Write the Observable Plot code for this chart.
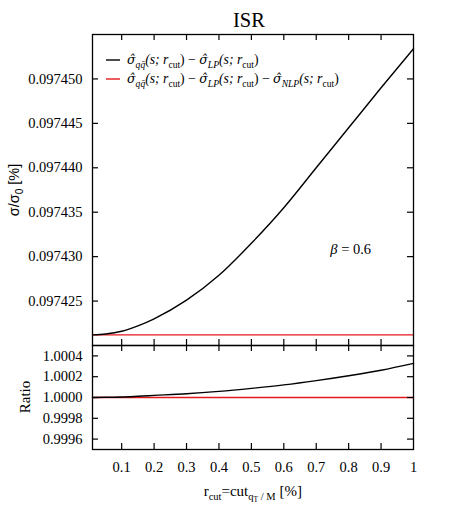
<!DOCTYPE html>
<html><head><meta charset="utf-8">
<script src="https://cdn.jsdelivr.net/npm/d3@7"></script>
<script src="https://cdn.jsdelivr.net/npm/@observablehq/plot@0.6"></script>
<style>
html,body{margin:0;padding:0;background:#fff;}
#chart{width:458px;height:518px;position:relative;overflow:hidden;background:#fff;}
#chart svg{position:absolute;left:0;display:block;background:none;}
</style></head><body><div id="chart"></div>
<script>
// ---- data ----
const rcut      = [0.01, 0.05, 0.1, 0.15, 0.2, 0.3, 0.4, 0.5, 0.6, 0.7, 0.8, 0.9, 1.0];
const sigmaLP   = [0.0974212, 0.0974213, 0.0974216, 0.0974222, 0.0974230, 0.0974251, 0.0974279,
                   0.0974315, 0.0974355, 0.0974400, 0.0974445, 0.0974490, 0.0974534];
const sigmaNLP  = [0.0974212, 0.0974212, 0.0974212, 0.0974212, 0.0974212, 0.0974212, 0.0974212,
                   0.0974212, 0.0974212, 0.0974212, 0.0974212, 0.0974212, 0.0974212];
const ratioLP   = [1.000000, 1.000002, 1.000005, 1.000012, 1.000020, 1.000036, 1.000059,
                   1.000088, 1.000121, 1.000162, 1.000209, 1.000262, 1.000328];
const ratioNLP  = [1.0000, 1.0000, 1.0000, 1.0000, 1.0000, 1.0000, 1.0000,
                   1.0000, 1.0000, 1.0000, 1.0000, 1.0000, 1.0000];
const xDomain   = [0.01, 1];
const xTicks    = [0.1, 0.2, 0.3, 0.4, 0.5, 0.6, 0.7, 0.8, 0.9];
const xLabels   = [0.1, 0.2, 0.3, 0.4, 0.5, 0.6, 0.7, 0.8, 0.9, 1];
const yTopDomain = [0.097420, 0.097455];
const yTopTicks  = [0.097425, 0.097430, 0.097435, 0.097440, 0.097445, 0.097450];
const yBotDomain = [0.9995, 1.0005];
const yBotTicks  = [0.9996, 0.9998, 1.0000, 1.0002, 1.0004];
const seriesColors = ["#000000", "#e3191c"];
const betaLabel = {x: 0.745, y: 0.0974302};

const topRows = rcut.map((x, i) => ({x, lp: sigmaLP[i], nlp: sigmaNLP[i]}));
const botRows = rcut.map((x, i) => ({x, lp: ratioLP[i], nlp: ratioNLP[i]}));

// ---- layout ----
const W = 458, ML = 92, MR = 45, TL = 6, TICKFS = 14.5;
const innerW = W - ML - MR;
const SERIF = "'Liberation Serif', 'Times New Roman', serif";
const MATH = "'DejaVu Serif', serif";
const SANS = "'Liberation Sans', Arial, sans-serif";

function inward(innerH) {
  return [
    Plot.tickX(xTicks, {x: d => d, insetTop: innerH - TL, stroke: "#000", strokeWidth: 1.2}),
    Plot.tickX(xTicks, {x: d => d, insetBottom: innerH - TL, stroke: "#000", strokeWidth: 1.2}),
  ];
}
function inwardY(ticks) {
  return [
    Plot.tickY(ticks, {y: d => d, insetRight: innerW - TL, stroke: "#000", strokeWidth: 1.2}),
    Plot.tickY(ticks, {y: d => d, insetLeft: innerW - TL, stroke: "#000", strokeWidth: 1.2}),
  ];
}

// top panel: frame from y=34 to y=345
const topH = 347, topMT = 34, topMB = 2;
const topInner = topH - topMT - topMB;
const topPlot = Plot.plot({
  width: W, height: topH,
  marginLeft: ML, marginRight: MR, marginTop: topMT, marginBottom: topMB,
  style: {fontFamily: SERIF, fontSize: TICKFS + "px", background: "none", color: "#000"},
  x: {domain: xDomain},
  y: {domain: yTopDomain},
  marks: [
    Plot.lineY(topRows, {x: "x", y: "nlp", stroke: seriesColors[1], strokeWidth: 1.4, curve: "monotone-x"}),
    Plot.lineY(topRows, {x: "x", y: "lp", stroke: seriesColors[0], strokeWidth: 1.4, curve: "monotone-x"}),
    ...inward(topInner),
    ...inwardY(yTopTicks),
    Plot.axisY({ticks: yTopTicks, tickSize: 0, tickPadding: 10, tickFormat: d3.format(".6f"), label: null, fontSize: TICKFS}),
    Plot.axisX({ticks: [], tickSize: 0, label: null}),
    Plot.frame({stroke: "#000", strokeWidth: 1.3})
  ]
});
topPlot.style.top = "0px";

// bottom panel: frame from y=345 to y=449
const botTopOffset = 343;
const botH = 175, botMT = 2, botMB = 69;
const botInner = botH - botMT - botMB;
const botPlot = Plot.plot({
  width: W, height: botH,
  marginLeft: ML, marginRight: MR, marginTop: botMT, marginBottom: botMB,
  style: {fontFamily: SERIF, fontSize: TICKFS + "px", background: "none", color: "#000"},
  x: {domain: xDomain},
  y: {domain: yBotDomain},
  marks: [
    Plot.lineY(botRows, {x: "x", y: "nlp", stroke: seriesColors[1], strokeWidth: 1.4, curve: "monotone-x"}),
    Plot.lineY(botRows, {x: "x", y: "lp", stroke: seriesColors[0], strokeWidth: 1.4, curve: "monotone-x"}),
    ...inward(botInner),
    ...inwardY(yBotTicks),
    Plot.axisY({ticks: yBotTicks, tickSize: 0, tickPadding: 10, tickFormat: d3.format(".4f"), label: null, fontSize: TICKFS}),
    Plot.axisX({ticks: xLabels, tickSize: 0, tickPadding: 12, tickFormat: d => String(d), label: null, fontSize: TICKFS}),
    Plot.frame({stroke: "#000", strokeWidth: 1.3})
  ]
});
botPlot.style.top = botTopOffset + "px";

const chart = document.getElementById("chart");
chart.appendChild(topPlot);
chart.appendChild(botPlot);

// ---- rich text helper ----
// style codes: "h" hatted sigma (math font), "i" italic, "r" roman, "si" sub italic, "sr" sub roman
function rich(sel, parts, size) {
  let shifted = 0;
  for (const [t, s] of parts) {
    const tsp = sel.append("tspan").text(t);
    const sub = s[0] === "s";
    const it = s.endsWith("i") || s === "h";
    tsp.attr("font-style", it ? "italic" : "normal");
    tsp.attr("font-size", sub ? size * 0.7 : (s === "h" ? size * 0.92 : size));
    if (s === "h") tsp.attr("font-family", MATH);
    const want = sub ? size * 0.28 : 0;
    if (want !== shifted) { tsp.attr("dy", want - shifted); shifted = want; }
  }
}

const ts = d3.select(topPlot);
// title
ts.append("text").attr("x", 249).attr("y", 27.3).attr("text-anchor", "middle")
  .attr("font-family", SERIF).attr("font-size", 20.5).attr("fill", "#000").text("ISR");

// y label (top)
{
  const t = ts.append("text").attr("transform", "translate(18.5,190) rotate(-90)")
    .attr("text-anchor", "middle").attr("font-family", SANS).attr("fill", "#000");
  rich(t, [["σ/σ", "r"], ["0", "sr"], [" [%]", "r"]], 14.5);
}

// legend
const LFS = 13.7;
const lg = ts.append("g").attr("font-family", SERIF).attr("fill", "#000");
const legendRows = [
  {color: seriesColors[0], parts: [["σ̂", "h"], ["qq̄", "si"], ["(s; r", "i"], ["cut", "sr"], [") − ", "r"],
                                   ["σ̂", "h"], ["LP", "si"], ["(s; r", "i"], ["cut", "sr"], [")", "r"]]},
  {color: seriesColors[1], parts: [["σ̂", "h"], ["qq̄", "si"], ["(s; r", "i"], ["cut", "sr"], [") − ", "r"],
                                   ["σ̂", "h"], ["LP", "si"], ["(s; r", "i"], ["cut", "sr"], [") − ", "r"],
                                   ["σ̂", "h"], ["NLP", "si"], ["(s; r", "i"], ["cut", "sr"], [")", "r"]]}
];
legendRows.forEach((row, i) => {
  const y = 60 + i * 19;
  lg.append("line").attr("x1", ML + 14).attr("x2", ML + 28).attr("y1", y).attr("y2", y)
    .attr("stroke", row.color).attr("stroke-width", 1.4);
  const t = lg.append("text").attr("x", ML + 35).attr("y", y + 4)
    .attr("text-anchor", "start").attr("font-size", LFS);
  rich(t, row.parts, LFS);
});

// beta annotation
{
  const sx = topPlot.scale("x"), sy = topPlot.scale("y");
  const t = ts.append("text").attr("x", sx.apply(betaLabel.x)).attr("y", sy.apply(betaLabel.y))
    .attr("text-anchor", "start").attr("font-family", SERIF).attr("fill", "#000");
  rich(t, [["β", "i"], [" = 0.6", "r"]], 14.5);
}

const bs = d3.select(botPlot);
// y label bottom
bs.append("text").attr("transform", "translate(30," + (397 - botTopOffset) + ") rotate(-90)")
  .attr("text-anchor", "middle").attr("font-family", SERIF).attr("font-size", 15).attr("fill", "#000").text("Ratio");
// x label
{
  const t = bs.append("text").attr("x", 252.8).attr("y", 496 - botTopOffset)
    .attr("text-anchor", "middle").attr("font-family", SERIF).attr("fill", "#000");
  const size = 15;
  t.append("tspan").attr("font-size", size).text("r");
  t.append("tspan").attr("font-size", size * 0.7).attr("dy", 4).text("cut");
  t.append("tspan").attr("font-size", size).attr("dy", -4).text("=cut");
  t.append("tspan").attr("font-size", size * 0.7).attr("dy", 4).text("q");
  t.append("tspan").attr("font-size", size * 0.5).attr("dy", 2).text("T");
  t.append("tspan").attr("font-size", size * 0.7).attr("dy", -2).text(" / M");
  t.append("tspan").attr("font-size", size).attr("dy", -4).text(" [%]");
}
</script></body></html>
